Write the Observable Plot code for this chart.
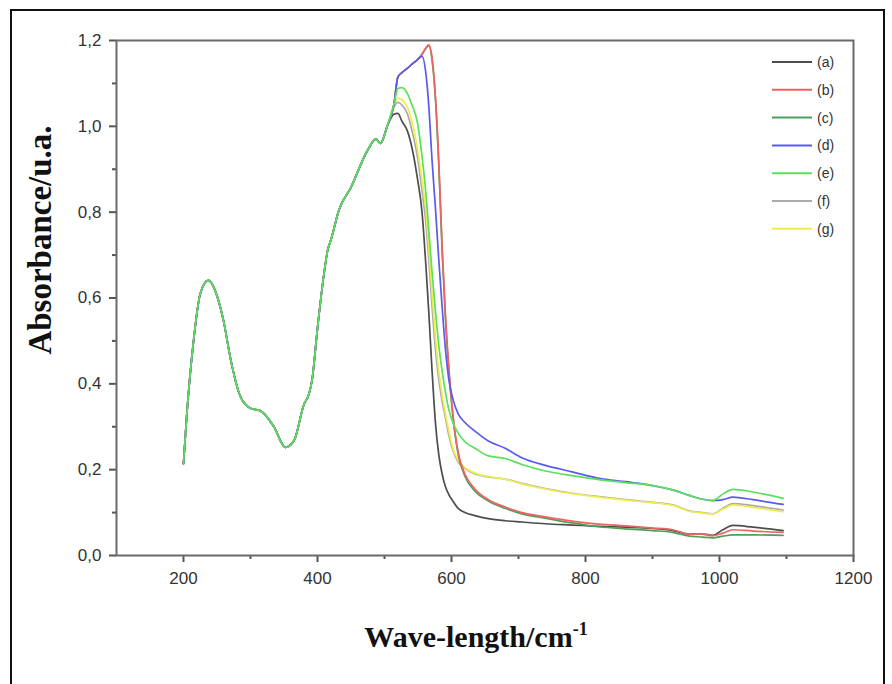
<!DOCTYPE html>
<html>
<head>
<meta charset="utf-8">
<script src="https://cdn.jsdelivr.net/npm/d3@7"></script>
<script src="https://cdn.jsdelivr.net/npm/@observablehq/plot@0.6"></script>
<style>
  html, body { margin: 0; padding: 0; background: #fff; }
  #wrap { position: relative; width: 892px; height: 684px; overflow: hidden; }
  #border { position: absolute; left: 10px; top: 9px; width: 871px; height: 700px; border: 2px solid #111; pointer-events: none; }
</style>
</head>
<body>
<div id="wrap"><div id="border"></div></div>
<script>
// Wavelength grid shared by all spectra
const wl = [200, 205, 215, 225, 237, 250, 260, 270, 285, 300, 315, 335, 352, 365, 380, 387, 392, 400, 410, 415,
            420, 432, 450, 475, 487, 494, 504, 514, 520, 526, 534, 541, 549, 556, 562, 566, 571, 576, 581, 586,
            591, 596, 602, 610, 620, 635, 655, 680, 705, 740, 780, 820, 860, 900, 930, 955, 975, 990, 1005, 1020,
            1050, 1095];

// Common part of all spectra (200 - 504)
const common = [0.214, 0.33, 0.50, 0.61, 0.641, 0.605, 0.545, 0.46, 0.37, 0.343, 0.337, 0.30, 0.252, 0.268, 0.353, 0.375,
                0.41, 0.53, 0.66, 0.71, 0.735, 0.805, 0.858, 0.945, 0.97, 0.96, 1.0];

// Series-specific parts (514 - 1095)
const tailA = [1.028, 1.03, 1.012, 0.99, 0.95, 0.88, 0.80, 0.67, 0.57, 0.43, 0.31, 0.235, 0.19, 0.16, 0.142, 0.127, 0.11, 0.1,
               0.093, 0.086, 0.081, 0.078, 0.074, 0.071, 0.068, 0.066, 0.063, 0.058, 0.05, 0.05, 0.047, 0.06, 0.07, 0.066, 0.058];
const tailB = [1.05, 1.115, 1.125, 1.135, 1.145, 1.155, 1.168, 1.183, 1.19, 1.16, 1.07, 0.92, 0.72, 0.56, 0.44, 0.33, 0.24, 0.19,
               0.155, 0.13, 0.113, 0.1, 0.09, 0.08, 0.073, 0.069, 0.064, 0.06, 0.05, 0.05, 0.046, 0.052, 0.06, 0.057, 0.054];
const tailC = [1.05, 1.115, 1.125, 1.135, 1.145, 1.155, 1.168, 1.182, 1.188, 1.155, 1.065, 0.91, 0.71, 0.55, 0.43, 0.325, 0.235, 0.185,
               0.15, 0.127, 0.11, 0.097, 0.087, 0.076, 0.067, 0.062, 0.058, 0.054, 0.045, 0.043, 0.041, 0.045, 0.048, 0.048, 0.047];
const tailD = [1.05, 1.115, 1.125, 1.135, 1.145, 1.155, 1.163, 1.12, 1.05, 0.92, 0.81, 0.69, 0.58, 0.48, 0.41, 0.365, 0.33, 0.31,
               0.29, 0.267, 0.25, 0.228, 0.21, 0.195, 0.18, 0.172, 0.163, 0.153, 0.14, 0.131, 0.128, 0.13, 0.136, 0.13, 0.119];
const tailE = [1.05, 1.088, 1.09, 1.077, 1.05, 1.01, 0.93, 0.84, 0.76, 0.66, 0.57, 0.49, 0.43, 0.38, 0.34, 0.31, 0.285, 0.265,
               0.25, 0.232, 0.226, 0.212, 0.197, 0.186, 0.177, 0.17, 0.163, 0.153, 0.14, 0.131, 0.128, 0.143, 0.154, 0.148, 0.133];
const tailF = [1.045, 1.056, 1.05, 1.03, 0.99, 0.93, 0.85, 0.77, 0.69, 0.58, 0.48, 0.41, 0.36, 0.32, 0.28, 0.245, 0.218, 0.203,
               0.19, 0.183, 0.178, 0.168, 0.156, 0.145, 0.137, 0.13, 0.124, 0.118, 0.104, 0.1, 0.097, 0.11, 0.121, 0.116, 0.106];
const tailG = [1.05, 1.066, 1.062, 1.045, 1.01, 0.95, 0.875, 0.8, 0.72, 0.61, 0.51, 0.43, 0.375, 0.33, 0.29, 0.25, 0.222, 0.205,
               0.192, 0.184, 0.178, 0.167, 0.155, 0.144, 0.136, 0.129, 0.123, 0.117, 0.103, 0.099, 0.097, 0.108, 0.118, 0.112, 0.102];

const seriesNames = ["(a)", "(b)", "(c)", "(d)", "(e)", "(f)", "(g)"];
const seriesColors = ["#4d4d4d", "#f06262", "#4f9f5a", "#5a5aee", "#5ae05a", "#ababab", "#eeee4a"];
const tails = [tailA, tailB, tailC, tailD, tailE, tailF, tailG];
// drawing order (last drawn on top)
const drawOrder = ["(f)", "(g)", "(a)", "(c)", "(b)", "(d)", "(e)"];

const xMajor = [200, 400, 600, 800, 1000, 1200];
const xMinor = [300, 500, 700, 900, 1100];
const yMajor = [0, 0.2, 0.4, 0.6, 0.8, 1.0, 1.2];
const yMinor = [0.1, 0.3, 0.5, 0.7, 0.9, 1.1];

const xTitle = "Wave-length/cm";
const xTitleSup = "-1";
const yTitle = "Absorbance/u.a.";

const data = drawOrder.flatMap(s => {
  const i = seriesNames.indexOf(s);
  const ys = common.concat(tails[i]);
  return wl.map((w, j) => ({series: s, wl: w, abs: ys[j]}));
});

const tickFmtY = d => d.toFixed(1).replace(".", ",");

const chart = Plot.plot({
  width: 892,
  height: 684,
  marginLeft: 116,
  marginRight: 39,
  marginTop: 40,
  marginBottom: 129,
  x: {domain: [100, 1200]},
  y: {domain: [0, 1.2]},
  color: {domain: seriesNames, range: seriesColors},
  style: {fontFamily: "'Liberation Sans', Arial, sans-serif", fontSize: "17px", background: "transparent", color: "#333"},
  marks: [
    Plot.line(data, {x: "wl", y: "abs", z: "series", stroke: "series", strokeWidth: 1.7, curve: "monotone-x"}),
    Plot.axisX({ticks: xMajor, tickSize: 7, tickPadding: 9, tickFormat: d => String(d), label: null, stroke: "#555", strokeWidth: 2, fill: "#333"}),
    Plot.axisX({ticks: xMinor, tickSize: 4, text: null, label: null, stroke: "#555", strokeWidth: 2}),
    Plot.axisY({ticks: yMajor, tickSize: 7, tickPadding: 8, tickFormat: tickFmtY, label: null, stroke: "#555", strokeWidth: 2, fill: "#333"}),
    Plot.axisY({ticks: yMinor, tickSize: 4, text: null, label: null, stroke: "#555", strokeWidth: 2}),
    Plot.frame({stroke: "#6a6a6a", strokeWidth: 2})
  ]
});

const svg = d3.select(chart);

// Tick label size
svg.selectAll("text").filter(function() { return !this.closest(".legend"); }).attr("font-size", 17).style("font-size", "17px");

// Legend (top right, inside the frame)
const lg = svg.append("g").attr("class", "legend").attr("text-anchor", "start");
seriesNames.forEach((s, i) => {
  const y = 62 + i * 27.8;
  lg.append("line").attr("x1", 772).attr("x2", 812).attr("y1", y).attr("y2", y)
    .attr("stroke", seriesColors[i]).attr("stroke-width", 2);
  lg.append("text").attr("x", 817).attr("y", y).attr("dy", "0.36em")
    .attr("text-anchor", "start")
    .attr("font-family", "'Liberation Sans', Arial, sans-serif").attr("font-size", 14)
    .style("font-size", "14px")
    .attr("fill", "#333").text(s);
});

// Axis titles
const xt = svg.append("text")
  .attr("x", 476).attr("y", 647).attr("text-anchor", "middle")
  .attr("font-family", "'Liberation Serif', 'Times New Roman', serif")
  .attr("font-weight", "bold").style("font-size", "30px").attr("fill", "#111");
xt.append("tspan").text(xTitle);
xt.append("tspan").attr("dy", -12).style("font-size", "18px").text(xTitleSup);

svg.append("text")
  .attr("transform", "translate(51,240) rotate(-90)")
  .attr("text-anchor", "middle")
  .attr("font-family", "'Liberation Serif', 'Times New Roman', serif")
  .attr("font-weight", "bold").style("font-size", "33px").attr("fill", "#111")
  .text(yTitle);

document.getElementById("wrap").appendChild(chart);
</script>
</body>
</html>
